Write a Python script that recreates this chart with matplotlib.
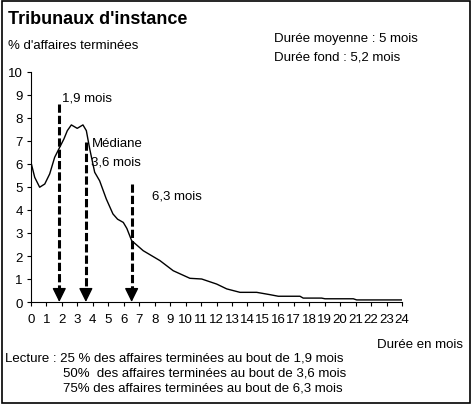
import matplotlib.pyplot as plt
import numpy as np

plt.rcParams['font.family'] = ['Liberation Sans', 'DejaVu Sans']

# Courbe : % d'affaires terminées selon la durée (mois)
months = [0, 0.24, 0.56, 0.89, 1.21, 1.53, 1.86, 2.13, 2.35, 2.61, 2.99, 3.36, 3.58,
          3.8, 4.12, 4.44, 4.87, 5.3, 5.6, 5.97, 6.2, 6.51, 7.26, 8.34, 9.2, 10.28,
          11.04, 12.01, 12.66, 13.52, 14.6, 15.45, 16.0, 17.4, 17.61, 18.8, 19.02,
          20.85, 21.07, 24]
pct = [6.07, 5.42, 4.99, 5.13, 5.57, 6.29, 6.73, 7.09, 7.45, 7.7, 7.55, 7.7, 7.45,
       6.65, 5.64, 5.27, 4.48, 3.83, 3.6, 3.46, 3.2, 2.67, 2.23, 1.8, 1.36, 1.03,
       1.0, 0.78, 0.57, 0.42, 0.42, 0.32, 0.25, 0.25, 0.17, 0.17, 0.14,
       0.14, 0.09, 0.09]

# Quartiles (flèches)
arrow_x = [1.83, 3.55, 6.51]
arrow_top = [8.6, 6.95, 5.13]
x_ticks = list(range(0, 25))
y_ticks = list(range(0, 11))

fig = plt.figure(figsize=(4.73, 4.06), dpi=100)
ax = fig.add_axes([31 / 473, 1 - 303 / 406, 371 / 473, 230 / 406])

ax.plot(months, pct, color='black', lw=1.0)

for x, top in zip(arrow_x, arrow_top):
    ax.plot([x, x], [top, 0.45], color='black', lw=2.2, linestyle=(0, (2.7, 1.0)))
    ax.annotate('', xy=(x, 0), xytext=(x, 0.55),
                arrowprops=dict(arrowstyle='-|>,head_width=0.42,head_length=0.85',
                                color='black', lw=1.0, shrinkA=0, shrinkB=0))

ax.set_xlim(0, 24)
ax.set_ylim(0, 10)
ax.set_xticks(x_ticks)
ax.set_yticks(y_ticks)
ax.spines['top'].set_visible(False)
ax.spines['right'].set_visible(False)
ax.spines['left'].set_linewidth(0.8)
ax.spines['bottom'].set_linewidth(0.8)
ax.tick_params(axis='both', labelsize=9.5, length=3, width=0.8, direction='out', pad=5)
ax.tick_params(axis='y', pad=3)

ax.text(2.0, 8.91, '1,9 mois', fontsize=9.5, va='center')
ax.text(3.95, 6.91, 'Médiane', fontsize=9.5, va='center')
ax.text(3.9, 6.13, '3,6 mois', fontsize=9.5, va='center')
ax.text(7.8, 4.61, '6,3 mois', fontsize=9.5, va='center')

# Textes hors axes
fig.text(8 / 473, 1 - 20 / 406, "Tribunaux d'instance", fontsize=13, fontweight='bold', va='center')
fig.text(8 / 473, 1 - 46 / 406, "% d'affaires terminées", fontsize=9.5, va='center')
fig.text(274 / 473, 1 - 39 / 406, "Durée moyenne : 5 mois", fontsize=9.5, va='center')
fig.text(274 / 473, 1 - 58 / 406, "Durée fond : 5,2 mois", fontsize=9.5, va='center')
fig.text(463 / 473, 1 - 345 / 406, "Durée en mois", fontsize=9.5, va='center', ha='right')
fig.text(5 / 473, 1 - 359 / 406, "Lecture : 25 % des affaires terminées au bout de 1,9 mois",
         fontsize=9.5, va='center')
fig.text(63 / 473, 1 - 374 / 406, "50%  des affaires terminées au bout de 3,6 mois",
         fontsize=9.5, va='center')
fig.text(63 / 473, 1 - 389 / 406, "75% des affaires terminées au bout de 6,3 mois",
         fontsize=9.5, va='center')

# Cadre
fig.add_artist(plt.Rectangle((2 / 473, 2 / 406), 468 / 473, 402 / 406, fill=False,
                             edgecolor='black', lw=1.2, transform=fig.transFigure))

plt.savefig('out.png', dpi=100)
